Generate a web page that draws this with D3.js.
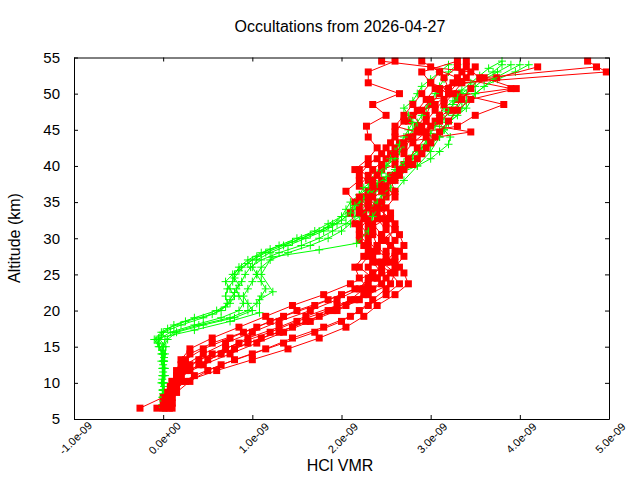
<!DOCTYPE html>
<html>
<head>
<meta charset="utf-8">
<script src="https://cdn.jsdelivr.net/npm/d3@7"></script>
<style>
  html, body { margin: 0; padding: 0; background: #fff; }
  svg { display: block; font-family: "Liberation Sans", Arial, sans-serif; }
</style>
</head>
<body>
<svg id="chart" width="640" height="480"></svg>
<script>
// ---------------- data (HCl VMR values in units of 1e-9) ----------------
const titleText = "Occultations from 2026-04-27";
const xLabelText = "HCl VMR";
const yLabelText = "Altitude (km)";
const valueUnit = 1e-9;

const xTicks = [-1e-9, 0, 1e-9, 2e-9, 3e-9, 4e-9, 5e-9];
const xTickLabels = ["-1.0e-09", "0.0e+00", "1.0e-09", "2.0e-09", "3.0e-09", "4.0e-09", "5.0e-09"];
const yTicks = [5, 10, 15, 20, 25, 30, 35, 40, 45, 50, 55];
const yTickLabels = ["5", "10", "15", "20", "25", "30", "35", "40", "45", "50", "55"];

// altitude grids (km)
const altRedA = [6.5, 8, 9.5, 11, 12.5, 14, 15.5, 17, 18.5, 20, 21.5, 23, 24.5, 26, 27.5, 29, 30.5, 32, 33.5, 35, 36.5, 38, 39.5, 41, 42.5, 44, 45.5, 47, 48.5, 50, 51.5, 53, 54.5];
const altRedB = [7.2, 8.7, 10.2, 11.7, 13.2, 14.7, 16.2, 17.7, 19.2, 20.7, 22.2, 23.7, 25.2, 26.7, 28.2, 29.7, 31.2, 32.7, 34.2, 35.7, 37.2, 38.7, 40.2, 41.7, 43.2, 44.7, 46.2, 47.7, 49.2, 50.7, 52.2, 53.7];
const altGreenA = [7, 8, 9, 10, 11, 12, 13, 14, 15, 16, 17, 18, 19, 20, 21, 22, 23, 24, 25, 26, 27, 28, 29, 30, 31, 32, 33, 34, 35, 36, 37, 38, 39, 40, 41, 42, 43, 44, 45, 46, 47, 48, 49, 50, 51, 52, 53, 54];
const altGreenB = [7.5, 8.5, 9.5, 10.5, 11.5, 12.5, 13.5, 14.5, 15.5, 16.5, 17.5, 18.5, 19.5, 20.5, 21.5, 22.5, 23.5, 24.5, 25.5, 26.5, 27.5, 28.5, 29.5, 30.5, 31.5, 32.5, 33.5, 34.5, 35.5, 36.5, 37.5, 38.5, 39.5, 40.5, 41.5, 42.5, 43.5, 44.5, 45.5, 46.5, 47.5, 48.5, 49.5, 50.5, 51.5, 52.5, 53.5, 54.5];
const altGreenSparse = [6.6, 9, 12, 15, 16.2, 17.3, 18.5, 19.7, 21.5, 22.6, 25, 27.4, 28.4, 29.3, 31, 33, 35, 36.5, 38, 40, 42, 44, 46, 48, 50, 52, 54];

// red profiles
const red01 = [-0.26, 0.0, 0.12, 0.35, 0.65, 1.0, 1.35, 1.7, 2.0, 2.2, 2.35, 2.5, 2.4, 2.3, 2.35, 2.25, 2.3, 2.2, 2.25, 2.3, 2.35, 2.3, 2.45, 2.6, 2.7, 2.8, 2.85, 2.95, 3.0, 3.1, 3.25, 3.35, 3.4];
const red02 = [0.05, 0.1, 0.15, 0.3, 0.5, 0.8, 1.1, 1.45, 1.75, 2.05, 2.3, 2.55, 2.6, 2.45, 2.5, 2.6, 2.5, 2.4, 2.35, 2.5, 2.4, 2.55, 2.7, 2.9, 3.0, 2.9, 3.05, 3.2, 3.3, 3.1, 3.4, 3.5];
const red03 = [-0.07, 0.05, 0.1, 0.15, 0.3, 0.55, 0.85, 1.2, 1.5, 1.85, 2.15, 2.35, 2.5, 2.65, 2.5, 2.4, 2.45, 2.35, 2.4, 2.2, 2.3, 2.45, 2.35, 2.5, 2.6, 2.75, 2.9, 2.8, 3.05, 3.2, 3.3, 3.45, 2.45];
const red04 = [0.1, 0.15, 0.2, 0.2, 0.25, 0.45, 0.75, 1.05, 1.35, 1.7, 2.0, 2.3, 2.45, 2.35, 2.3, 2.2, 2.3, 2.5, 2.45, 2.35, 2.2, 2.3, 2.6, 2.55, 2.65, 3.45, 2.75, 2.9, 3.0, 3.9, 3.3, 3.0];
const red05 = [0.02, 0.1, 0.15, 0.15, 0.2, 0.3, 0.55, 0.9, 1.2, 1.5, 1.85, 2.15, 2.4, 2.6, 2.7, 2.55, 2.45, 2.5, 2.35, 2.4, 2.5, 2.35, 2.2, 2.4, 2.5, 2.6, 3.3, 3.5, 3.82, 3.3, 3.0, 2.9, 3.3];
const red06 = [0.0, 0.1, 0.25, 0.6, 1.0, 1.4, 1.75, 2.05, 2.25, 2.4, 2.6, 2.75, 2.7, 2.6, 2.4, 2.3, 2.2, 2.3, 2.2, 2.25, 2.4, 2.2, 2.3, 2.45, 2.55, 2.6, 2.7, 2.85, 2.95, 3.05, 3.74, 4.2];
const red07 = [0.07, 0.05, 0.1, 0.2, 0.45, 0.75, 1.05, 1.35, 1.65, 1.95, 2.2, 2.3, 2.2, 2.15, 2.25, 2.3, 2.2, 2.15, 2.1, 2.15, 2.05, 2.2, 2.15, 2.3, 2.4, 2.3, 2.28, 2.5, 2.35, 2.65, 2.3, 2.3, 2.6];
const red08 = [0.05, 0.05, 0.1, 0.25, 0.4, 0.7, 0.95, 1.3, 1.6, 1.95, 2.25, 2.45, 2.35, 2.55, 2.65, 2.5, 2.6, 2.45, 2.5, 2.6, 2.5, 2.65, 2.8, 2.9, 3.0, 3.1, 3.2, 3.3, 3.45, 3.96, 3.6, 4.86];
const red09 = [0.1, 0.1, 0.15, 0.2, 0.25, 0.45, 0.7, 1.0, 1.3, 1.65, 1.95, 2.2, 2.3, 2.45, 2.6, 2.7, 2.65, 2.6, 2.55, 2.45, 2.6, 2.55, 2.65, 2.75, 2.85, 2.95, 3.0, 3.1, 3.15, 3.25, 3.35, 4.97, 4.76];
const red10 = [0.1, 0.1, 0.1, 0.15, 0.2, 0.3, 0.55, 0.85, 1.15, 1.45, 1.8, 2.1, 2.35, 2.5, 2.6, 2.45, 2.35, 2.25, 2.3, 2.2, 2.35, 2.4, 2.45, 2.6, 2.7, 2.85, 2.95, 3.05, 3.15, 3.2, 3.15, 3.3];
const red11 = [0.0, 0.02, 0.08, 0.2, 0.4, 0.65, 0.95, 1.3, 1.6, 1.9, 2.1, 2.25, 2.35, 2.2, 2.3, 2.4, 2.35, 2.3, 2.2, 2.3, 2.45, 2.6, 2.7, 2.85, 2.95, 3.05, 2.6, 2.7, 2.8, 2.9, 3.0, 3.1, 2.9];
const red12 = [0.02, 0.15, 0.3, 0.5, 0.8, 1.15, 1.45, 1.8, 2.1, 2.3, 2.5, 2.65, 2.55, 2.4, 2.35, 2.45, 2.6, 2.55, 2.4, 2.3, 2.45, 2.6, 2.75, 2.7, 2.8, 2.95, 3.1, 3.25, 3.35, 3.45, 3.55, 3.4];

// green profiles
const green01 = [0.0, -0.01, 0.0, -0.02, 0.0, -0.01, 0.0, -0.02, -0.04, -0.08, 0.0, 0.2, 0.45, 0.65, 0.72, 0.7, 0.72, 0.78, 0.8, 0.85, 0.95, 1.1, 1.3, 1.5, 1.7, 1.85, 2.0, 2.1, 2.15, 2.2, 2.3, 2.35, 2.45, 2.5, 2.6, 2.65, 2.7, 2.75, 2.8, 2.85, 2.9, 2.95, 3.0, 3.05, 3.1, 3.15, 3.2, 3.3];
const green02 = [0.01, 0.0, 0.01, 0.0, 0.02, 0.0, 0.01, 0.0, -0.01, -0.05, 0.08, 0.35, 0.65, 0.85, 0.9, 0.85, 0.82, 0.88, 0.92, 0.98, 1.1, 1.3, 1.55, 1.75, 1.9, 2.05, 2.15, 2.2, 2.3, 2.35, 2.45, 2.55, 2.6, 2.7, 2.8, 2.9, 3.0, 3.1, 3.15, 3.2, 3.25, 3.3, 3.35, 3.4, 3.5, 3.6, 3.75, 3.9];
const green03 = [0.0, 0.0, -0.01, 0.01, 0.0, 0.02, 0.0, -0.01, 0.0, 0.02, 0.12, 0.4, 0.75, 0.95, 1.05, 1.1, 1.15, 1.1, 1.05, 1.0, 1.05, 1.2, 1.4, 1.6, 1.8, 1.95, 2.05, 2.15, 2.2, 2.3, 2.4, 2.5, 2.65, 2.85, 3.0, 3.1, 3.2, 3.22, 3.15, 3.1, 3.1, 3.15, 3.25, 3.35, 3.45, 3.55, 3.7, 3.8];
const green04 = [-0.01, 0.0, 0.0, -0.01, 0.0, 0.0, -0.02, 0.0, -0.05, -0.1, -0.02, 0.12, 0.35, 0.6, 0.75, 0.8, 0.75, 0.7, 0.78, 0.88, 1.0, 1.15, 1.35, 1.55, 1.75, 1.9, 2.0, 2.05, 2.1, 2.2, 2.25, 2.35, 2.4, 2.5, 2.55, 2.6, 2.65, 2.7, 2.75, 2.8, 2.75, 2.7, 2.8, 2.85, 2.9, 3.0, 3.1, 3.2];
const green05 = [0.0, 0.01, 0.0, 0.0, -0.01, 0.0, 0.01, 0.02, 0.0, 0.05, 0.15, 0.45, 0.8, 1.0, 0.95, 0.9, 0.95, 1.0, 1.05, 1.1, 1.2, 1.4, 1.65, 1.85, 2.0, 2.1, 2.2, 2.3, 2.4, 2.45, 2.55, 2.6, 2.65, 2.7, 2.75, 2.85, 2.95, 3.05, 3.1, 3.2, 3.3, 3.35, 3.4, 3.5, 3.6, 3.75, 3.95, 4.1];
const green06 = [0.0, 0.0, 0.01, 0.03, -0.05, 0.35, 0.75, 1.08, 1.08, 1.23, 1.1, 1.22, 1.75, 2.17, 2.3, 2.35, 2.45, 2.6, 2.7, 2.85, 3.0, 3.1, 3.2, 3.4, 3.5, 3.7, 4.0];
const green07 = [0.0, 0.0, 0.01, -0.01, 0.0, 0.0, 0.01, -0.01, -0.06, -0.02, 0.05, 0.25, 0.55, 0.7, 0.75, 0.8, 0.85, 0.8, 0.85, 0.95, 1.05, 1.2, 1.45, 1.65, 1.85, 2.0, 2.1, 2.15, 2.25, 2.3, 2.4, 2.5, 2.6, 2.7, 2.8, 2.9, 2.95, 3.0, 3.05, 3.15, 3.2, 3.25, 3.3, 3.35, 3.45, 3.55, 3.65, 3.8];

const redProfiles = [
  [altRedA, red01], [altRedB, red02], [altRedA, red03], [altRedB, red04],
  [altRedA, red05], [altRedB, red06], [altRedA, red07], [altRedB, red08],
  [altRedA, red09], [altRedB, red10], [altRedA, red11], [altRedB, red12]
];
const greenProfiles = [
  [altGreenA, green01], [altGreenA, green02], [altGreenA, green03], [altGreenA, green04],
  [altGreenA, green05], [altGreenSparse, green06], [altGreenB, green07]
];

// ---------------- drawing ----------------
const svg = d3.select("#chart");
const W = 640, H = 480;
const margin = { left: 74, right: 31, top: 57.5, bottom: 61 };
const x = d3.scaleLinear().domain([-1e-9, 5e-9]).range([margin.left, W - margin.right]);
const y = d3.scaleLinear().domain([5, 55]).range([H - margin.bottom, margin.top]);

const toPoints = ([alts, vals]) => alts.map((a, i) => ({ alt: a, v: vals[i] * valueUnit }));
const line = d3.line().x(d => x(d.v)).y(d => y(d.alt));

const plot = svg.append("g");
const nDraw = Math.max(redProfiles.length, greenProfiles.length);
for (let i = 0; i < nDraw; i++) {
  if (i < redProfiles.length) {
    const pts = toPoints(redProfiles[i]);
    const g = plot.append("g");
    g.append("path").datum(pts).attr("d", line)
      .attr("fill", "none").attr("stroke", "#ff0000").attr("stroke-width", 1);
    g.selectAll("rect").data(pts).join("rect")
      .attr("x", d => x(d.v) - 3.5).attr("y", d => y(d.alt) - 3.5)
      .attr("width", 7).attr("height", 7).attr("fill", "#ff0000");
  }
  if (i < greenProfiles.length) {
    const pts = toPoints(greenProfiles[i]);
    const g = plot.append("g");
    g.append("path").datum(pts).attr("d", line)
      .attr("fill", "none").attr("stroke", "#00ff00").attr("stroke-width", 1);
    g.selectAll("path.m").data(pts).join("path").attr("class", "m")
      .attr("d", d => `M${x(d.v) - 4},${y(d.alt)}H${x(d.v) + 4}M${x(d.v)},${y(d.alt) - 4}V${y(d.alt) + 4}`)
      .attr("stroke", "#00ff00").attr("stroke-width", 1).attr("fill", "none");
  }
}

// axes (inward ticks on all four sides)
const tick = 4;
const xb = svg.append("g").attr("transform", `translate(0,${y(5)})`)
  .call(d3.axisBottom(x).tickValues(xTicks).tickSizeInner(-tick).tickSizeOuter(0)
    .tickFormat((d, i) => xTickLabels[i]));
xb.selectAll("text")
  .attr("x", 1).attr("y", 19).attr("dy", "0.35em")
  .attr("text-anchor", "middle")
  .attr("transform", "rotate(-45,1,19)")
  .attr("font-size", 11).attr("fill", "#000")
  .style("font-family", "'Liberation Sans', Arial, sans-serif");

const xt = svg.append("g").attr("transform", `translate(0,${y(55)})`)
  .call(d3.axisTop(x).tickValues(xTicks).tickSizeInner(-tick).tickSizeOuter(0).tickFormat(""));

const yl = svg.append("g").attr("transform", `translate(${x(-1e-9)},0)`)
  .call(d3.axisLeft(y).tickValues(yTicks).tickSizeInner(-tick).tickSizeOuter(0).tickPadding(14)
    .tickFormat((d, i) => yTickLabels[i]));
yl.selectAll("text").attr("font-size", 15).attr("fill", "#000")
  .style("font-family", "'Liberation Sans', Arial, sans-serif");

const yr = svg.append("g").attr("transform", `translate(${x(5e-9)},0)`)
  .call(d3.axisRight(y).tickValues(yTicks).tickSizeInner(-tick).tickSizeOuter(0).tickFormat(""));

svg.selectAll(".domain").attr("stroke", "#000").attr("stroke-width", 1);
svg.selectAll(".tick line").attr("stroke", "#000").attr("stroke-width", 1);

// titles
svg.append("text").attr("x", 340).attr("y", 32).attr("text-anchor", "middle")
  .attr("font-size", 16).attr("fill", "#000").text(titleText);
svg.append("text").attr("x", 340).attr("y", 471).attr("text-anchor", "middle")
  .attr("font-size", 16).attr("fill", "#000").text(xLabelText);
svg.append("text").attr("transform", "translate(20,238) rotate(-90)").attr("text-anchor", "middle")
  .attr("font-size", 16).attr("fill", "#000").text(yLabelText);
</script>
</body>
</html>
